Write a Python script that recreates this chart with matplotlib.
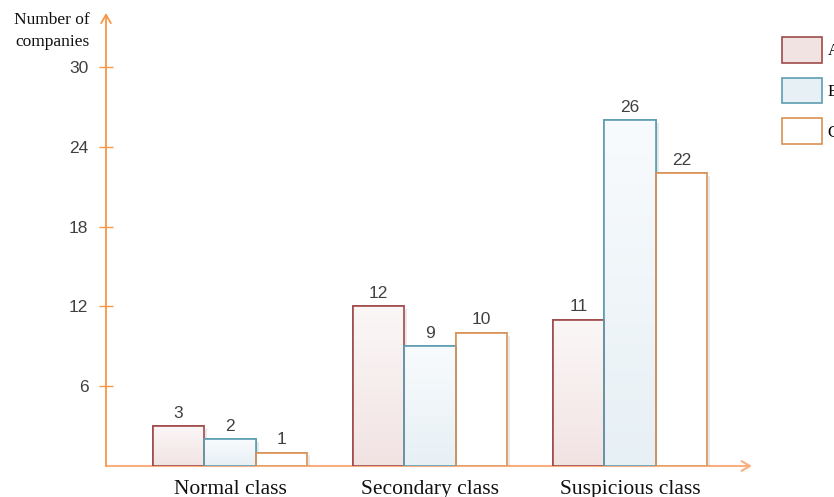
import numpy as np
import matplotlib.pyplot as plt
import matplotlib.patheffects as pe
from matplotlib.colors import to_rgb
from matplotlib.patches import Patch

classes = ["Normal class", "Secondary class", "Suspicious class"]
series = ["A", "B", "C"]
counts_a = [3, 12, 11]
counts_b = [2, 9, 26]
counts_c = [1, 10, 22]
yticks = [6, 12, 18, 24, 30]

# fill colours: (top, bottom) of the vertical gradient
grad_cols = [("#FBF7F7", "#F2E3E3"), ("#F8FBFD", "#E7F0F5"), ("#FFFFFF", "#FFFFFF")]
edge_cols = ["#A04A4A", "#5E9DB2", "#D99055"]
axis_col = "#F79646"
text_col = "#404040"

fig = plt.figure(figsize=(8.34, 4.97), dpi=100)
ax = fig.add_axes([106/834, 31/497, 646/834, 453/497])

x = np.arange(len(classes))
w = 0.2575
shadow = [pe.SimplePatchShadow(offset=(2, -2), alpha=0.12), pe.Normal()]
for i, vals in enumerate([counts_a, counts_b, counts_c]):
    top, bot = np.array(to_rgb(grad_cols[i][0])), np.array(to_rgb(grad_cols[i][1]))
    grad = np.linspace(0, 1, 64)[:, None, None] * (bot - top) + top
    bars = ax.bar(x + (i - 1) * w, vals, w, color=grad_cols[i][1], edgecolor=edge_cols[i],
                  linewidth=1.2, zorder=3)
    for b, v in zip(bars, vals):
        b.set_path_effects(shadow)
        img = ax.imshow(grad, extent=(b.get_x(), b.get_x() + b.get_width(), 0, v),
                        aspect="auto", origin="upper", zorder=3.1, interpolation="bilinear")
        img.set_clip_path(b)
        ax.bar(b.get_x(), v, w, align="edge", fill=False, edgecolor=edge_cols[i],
               linewidth=1.2, zorder=3.2)
        ax.annotate(str(v), (b.get_x() + b.get_width() / 2, v), xytext=(0, 4),
                    textcoords="offset points", ha="center", va="bottom",
                    fontsize=12.5, color=text_col, family="Liberation Sans")

ax.set_xlim(-0.62, 2.61)
ax.set_ylim(0, 34.06)
for s in ax.spines.values():
    s.set_visible(False)

# axes drawn as arrows
ax.annotate("", xy=(1.0, 0), xytext=(0, 0), xycoords="axes fraction",
            arrowprops=dict(arrowstyle="->,head_length=0.6,head_width=0.35",
                            color="#F8B080", lw=1.5, shrinkA=0, shrinkB=0), zorder=2)
ax.annotate("", xy=(0, 1.0), xytext=(0, 0), xycoords="axes fraction",
            arrowprops=dict(arrowstyle="->,head_length=0.6,head_width=0.35",
                            color=axis_col, lw=1.3, shrinkA=0, shrinkB=0), zorder=2)

ax.set_yticks(yticks)
ax.set_yticklabels([str(t) for t in yticks], family="Liberation Sans", fontsize=12.5, color=text_col)
ax.tick_params(axis="y", direction="inout", length=9.5, width=1.0, color=axis_col, pad=8)
ax.set_xticks(x)
ax.set_xticklabels(classes, family="Liberation Serif", fontsize=15.5, color="#111111")
ax.tick_params(axis="x", length=0, pad=10)

fig.text(52/834, 1 - 31/497, "Number of\ncompanies", ha="center", va="center", ma="center",
         family="Liberation Serif", fontsize=12.5, color="#111111", linespacing=1.45)

handles = [Patch(facecolor=grad_cols[i][1], edgecolor=edge_cols[i], linewidth=1.2) for i in range(3)]
fig.legend(handles, series, loc="upper left", bbox_to_anchor=(782/834, 1 - 37/497),
           frameon=False, borderpad=0, borderaxespad=0,
           handlelength=2.4, handleheight=2.0, labelspacing=0.9, handletextpad=0.35,
           prop={"family": "Liberation Serif", "size": 12})

fig.savefig("out.png", dpi=100)
